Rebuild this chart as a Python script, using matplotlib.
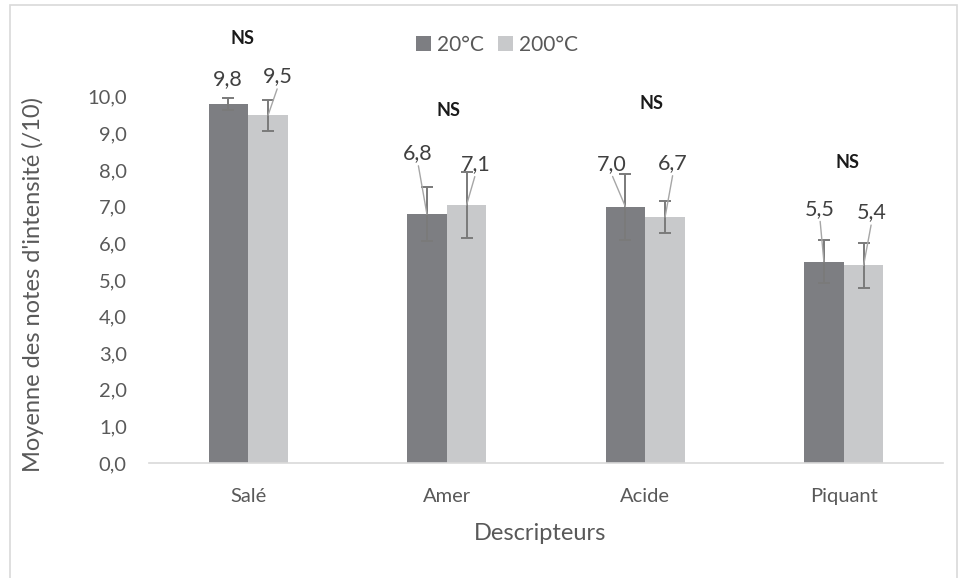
import matplotlib
matplotlib.use("Agg")
import matplotlib.pyplot as plt
from matplotlib.ticker import FuncFormatter
from matplotlib.patches import Rectangle
import numpy as np

# ---- data ----
categories = ["Salé", "Amer", "Acide", "Piquant"]
series_names = ["20°C", "200°C"]
means_20 = [9.8, 6.8, 7.0, 5.5]
means_200 = [9.5, 7.05, 6.72, 5.4]
sd_20 = [0.17, 0.75, 0.9, 0.58]
sd_200 = [0.42, 0.9, 0.44, 0.62]
labels_20 = ["9,8", "6,8", "7,0", "5,5"]
labels_200 = ["9,5", "7,1", "6,7", "5,4"]
signif = ["NS", "NS", "NS", "NS"]

# ---- layout / style ----
W, H, DPI = 959, 578, 100
c_dark = "#7d7e82"
c_light = "#c8c9cb"
c_err = "#7a7a7a"
c_text = "#595959"
c_lab = "#404040"
font = "Lato"
bar_w = 0.2
# label offsets (pixels) from bar top centre
off_20 = [(-1, 25), (-9, 61), (-14, 43), (-4, 53)]
off_200 = [(10, 39), (9, 41), (8, 54), (8, 53)]
leader_20 = [False, True, True, True]
leader_200 = [True, True, True, True]
ns_dx = [-0.03, 0.01, 0.03, 0.02]
ns_y = [11.6, 9.62, 9.81, 8.2]

plt.rcParams["font.family"] = [font, "DejaVu Sans"]

fig = plt.figure(figsize=(W / DPI, H / DPI), dpi=DPI)
ax = fig.add_axes([149 / W, 1 - 463 / H, (943 - 149) / W, (463 - 23.6) / H])

x = np.arange(len(categories))
b1 = ax.bar(x - bar_w / 2, means_20, bar_w, color=c_dark, label=series_names[0], zorder=2)
b2 = ax.bar(x + bar_w / 2, means_200, bar_w, color=c_light, label=series_names[1], zorder=2)
ax.errorbar(x - bar_w / 2, means_20, yerr=sd_20, fmt="none", ecolor=c_err,
            elinewidth=1.4, capsize=4.5, capthick=1.4, zorder=3)
ax.errorbar(x + bar_w / 2, means_200, yerr=sd_200, fmt="none", ecolor=c_err,
            elinewidth=1.4, capsize=4.5, capthick=1.4, zorder=3)

def add_labels(xs, vals, labs, offs, leaders):
    for xi, v, lab, (dx, dy), ld in zip(xs, vals, labs, offs, leaders):
        ap = dict(arrowstyle="-", color="#a6a6a6", lw=1.0, shrinkA=0, shrinkB=0,
                  relpos=(0.5, 0.0)) if ld else None
        ax.annotate(lab, xy=(xi, v), xytext=(dx, dy), textcoords="offset pixels",
                    ha="center", va="center", fontsize=15.5, color=c_lab,
                    arrowprops=ap, zorder=4)

add_labels(x - bar_w / 2, means_20, labels_20, off_20, leader_20)
add_labels(x + bar_w / 2, means_200, labels_200, off_200, leader_200)

for xi, s, dx, yy in zip(x, signif, ns_dx, ns_y):
    ax.text(xi + dx, yy, s, ha="center", va="center", fontsize=13,
            fontweight="bold", color="#1a1a1a", zorder=4)

ax.set_xlim(-0.5, len(categories) - 0.5)
ax.set_ylim(0, 12)
ax.set_yticks(np.arange(0, 11, 1))
ax.yaxis.set_major_formatter(FuncFormatter(lambda v, p: f"{v:.1f}".replace(".", ",")))
ax.set_xticks(x)
ax.set_xticklabels(categories)
ax.tick_params(axis="both", length=0, labelsize=14.5, labelcolor=c_text)
ax.tick_params(axis="x", pad=18)
ax.tick_params(axis="y", pad=16)
for s in ["top", "right", "left"]:
    ax.spines[s].set_visible(False)
ax.spines["bottom"].set_color("#d9d9d9")
ax.spines["bottom"].set_linewidth(1.2)

fig.text(540 / W, 1 - 533 / H, "Descripteurs", ha="center", va="center",
         fontsize=17, color=c_text)
fig.text(33 / W, 1 - 285 / H, "Moyenne des notes d'intensité (/10)", ha="center",
         va="center", rotation=90, fontsize=17, color=c_text)

leg = fig.legend(handles=[b1, b2], labels=series_names, loc="center",
                 bbox_to_anchor=(497 / W, 1 - 45 / H), ncol=2, frameon=False,
                 fontsize=15, handlelength=0.7, handleheight=0.7,
                 handletextpad=0.3, columnspacing=0.7, labelcolor=c_text)

fig.patches.append(Rectangle((10 / W, -0.01), (957 - 10) / W, 1 - 5 / H + 0.01,
                             transform=fig.transFigure, fill=False,
                             edgecolor="#d9d9d9", lw=1.2))

fig.savefig("out.png", dpi=DPI)
